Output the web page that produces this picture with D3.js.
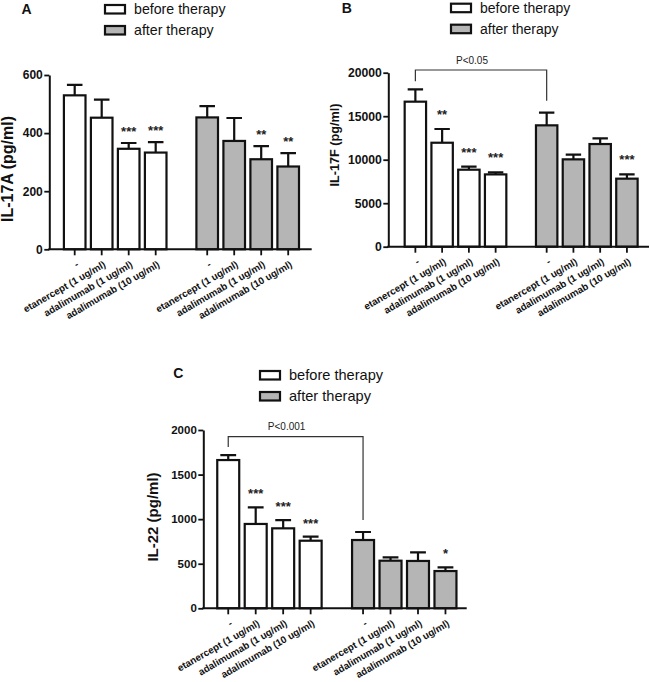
<!DOCTYPE html>
<html>
<head>
<meta charset="utf-8">
<script src="https://cdn.jsdelivr.net/npm/d3@7"></script>
<style>
    body { margin: 0; background: #fff; }
    text { font-family: "Liberation Sans", Arial, sans-serif; }
</style>
</head>
<body>
<div class="chart"></div>
<script>
// categories and groups shared by all three panels
var categories = ["-", "etanercept (1 ug/ml)", "adalimumab (1 ug/ml)", "adalimumab (10 ug/ml)"],
    groups = ["before therapy", "after therapy"];

// IL-17A
var il17aBefore = [530, 453, 346, 333],
    il17aBeforeErr = [36, 62, 20, 36],
    il17aAfter = [454, 373, 310, 285],
    il17aAfterErr = [39, 79, 45, 46],
    il17aBeforeStars = ["", "", "***", "***"],
    il17aAfterStars = ["", "", "**", "**"],
    il17aTicks = [0, 200, 400, 600];

// IL-17F
var il17fBefore = [16670, 11950, 8850, 8310],
    il17fBeforeErr = [1420, 1580, 345, 235],
    il17fAfter = [13950, 10040, 11800, 7820],
    il17fAfterErr = [1450, 535, 650, 495],
    il17fBeforeStars = ["", "**", "***", "***"],
    il17fAfterStars = ["", "", "", "***"],
    il17fTicks = [0, 5000, 10000, 15000, 20000];

// IL-22
var il22Before = [1663, 946, 897, 758],
    il22BeforeErr = [56, 187, 93, 45],
    il22After = [766, 534, 531, 418],
    il22AfterErr = [90, 38, 97, 42],
    il22BeforeStars = ["", "***", "***", "***"],
    il22AfterStars = ["", "", "", "*"],
    il22Ticks = [0, 500, 1000, 1500, 2000];

var fills = ["#ffffff", "#b5b5b5"];

var svg = d3.select(".chart").append("svg")
    .attr("width", 650)
    .attr("height", 682);

var panels = [
    {
        letter: "A", letterX: 21.5, letterY: 13.5, legendX: 104, legendY: 4, legendFont: 14.2,
        yLabel: "IL-17A (pg/ml)", yLabelX: 13, yLabelY: 169, yLabelFont: 16,
        axisX: 49.3, yTop: 75, yBottom: 249.3, xRange: [61.2, 301.7], axisEnd: 311.7,
        ticks: il17aTicks, tickFont: 12, starGap: 15,
        before: il17aBefore, beforeErr: il17aBeforeErr, after: il17aAfter, afterErr: il17aAfterErr,
        beforeStars: il17aBeforeStars, afterStars: il17aAfterStars, bracket: null
    },
    {
        letter: "B", letterX: 341.7, letterY: 13.3, legendX: 450, legendY: 2.7, legendFont: 14,
        yLabel: "IL-17F (pg/ml)", yLabelX: 339.3, yLabelY: 145, yLabelFont: 12.7,
        axisX: 388.3, yTop: 72.7, yBottom: 246.7, xRange: [402, 640.3], axisEnd: 649,
        ticks: il17fTicks, tickFont: 12.2, starGap: 18,
        before: il17fBefore, beforeErr: il17fBeforeErr, after: il17fAfter, afterErr: il17fAfterErr,
        beforeStars: il17fBeforeStars, afterStars: il17fAfterStars,
        bracket: { text: "P<0.05", level: 20310 }
    },
    {
        letter: "C", letterX: 173.3, letterY: 378.3, legendX: 259, legendY: 370, legendFont: 14.6,
        yLabel: "IL-22 (pg/ml)", yLabelX: 158, yLabelY: 517, yLabelFont: 15,
        axisX: 203.3, yTop: 430, yBottom: 608.3, xRange: [214.5, 459.2], axisEnd: 466.7,
        ticks: il22Ticks, tickFont: 11.5, starGap: 17,
        before: il22Before, beforeErr: il22BeforeErr, after: il22After, afterErr: il22AfterErr,
        beforeStars: il22BeforeStars, afterStars: il22AfterStars,
        bracket: { text: "P<0.001", level: 1925 }
    }
];

panels.forEach(drawPanel);

function drawPanel(p) {
    var g = svg.append("g");

    var y = d3.scaleLinear()
        .domain([0, d3.max(p.ticks)])
        .range([p.yBottom, p.yTop]);

    var x0 = d3.scaleBand()
        .domain(groups)
        .range(p.xRange)
        .paddingInner(0.185);

    var x1 = d3.scaleBand()
        .domain(categories)
        .range([0, x0.bandwidth()])
        .paddingInner(0.2)
        .paddingOuter(0.1);

    var data = [];
    groups.forEach(function (grp, gi) {
        var vals = gi === 0 ? p.before : p.after,
            errs = gi === 0 ? p.beforeErr : p.afterErr,
            stars = gi === 0 ? p.beforeStars : p.afterStars;
        categories.forEach(function (c, ci) {
            data.push({ group: grp, gi: gi, cat: c, value: vals[ci], err: errs[ci], star: stars[ci] });
        });
    });

    function cx(d) { return x0(d.group) + x1(d.cat) + x1.bandwidth() / 2; }

    // error bars (upper only)
    var capW = x1.bandwidth() * 0.72;
    g.selectAll(".err").data(data).enter().append("path")
        .attr("d", function (d) {
            var top = y(d.value + d.err), c = cx(d);
            return "M" + c + "," + y(d.value) + "V" + top +
                "M" + (c - capW / 2) + "," + top + "H" + (c + capW / 2);
        })
        .attr("fill", "none")
        .attr("stroke", "#111")
        .attr("stroke-width", 2.2);

    // bars
    g.selectAll(".bar").data(data).enter().append("rect")
        .attr("x", function (d) { return x0(d.group) + x1(d.cat); })
        .attr("y", function (d) { return y(d.value); })
        .attr("width", x1.bandwidth())
        .attr("height", function (d) { return y(0) - y(d.value); })
        .attr("fill", function (d) { return fills[d.gi]; })
        .attr("stroke", "#111")
        .attr("stroke-width", 2.2);

    // significance stars
    g.selectAll(".star").data(data.filter(function (d) { return d.star; })).enter().append("text")
        .attr("x", cx)
        .attr("y", function (d) { return y(d.value + d.err) - p.starGap + 0.6 * 13; })
        .attr("text-anchor", "middle")
        .attr("font-size", 13)
        .attr("font-weight", "bold")
        .attr("fill", "#222")
        .text(function (d) { return d.star; });

    // y axis
    var yAxis = g.append("g")
        .attr("transform", "translate(" + p.axisX + ",0)")
        .call(d3.axisLeft(y).tickValues(p.ticks).tickFormat(d3.format("d"))
            .tickSize(5).tickSizeOuter(0).tickPadding(1.5));
    yAxis.select(".domain").attr("stroke", "#111").attr("stroke-width", 2);
    yAxis.selectAll(".tick line").attr("stroke", "#111").attr("stroke-width", 1.8);
    yAxis.selectAll(".tick text")
        .attr("font-family", "'Liberation Sans', Arial, sans-serif")
        .attr("font-size", p.tickFont)
        .attr("font-weight", "bold")
        .attr("fill", "#111");

    // x axis line and ticks
    g.append("line")
        .attr("x1", p.axisX - 1).attr("x2", p.axisEnd)
        .attr("y1", y(0)).attr("y2", y(0))
        .attr("stroke", "#111").attr("stroke-width", 2);

    g.selectAll(".xtick").data(data).enter().append("line")
        .attr("x1", cx).attr("x2", cx)
        .attr("y1", y(0)).attr("y2", y(0) + 6)
        .attr("stroke", "#111").attr("stroke-width", 1.8);

    g.selectAll(".xlabel").data(data).enter().append("text")
        .attr("transform", function (d) { return "translate(" + (cx(d) + 3) + "," + (y(0) + 14) + ") rotate(-30)"; })
        .attr("text-anchor", "end")
        .attr("dy", "0.35em")
        .attr("font-size", 9.8)
        .attr("font-weight", "bold")
        .attr("fill", "#111")
        .text(function (d) { return d.cat; });

    // y label
    g.append("text")
        .attr("transform", "translate(" + p.yLabelX + "," + p.yLabelY + ") rotate(-90)")
        .attr("text-anchor", "middle")
        .attr("font-size", p.yLabelFont)
        .attr("font-weight", "bold")
        .attr("fill", "#111")
        .text(p.yLabel);

    // panel letter
    g.append("text")
        .attr("x", p.letterX).attr("y", p.letterY)
        .attr("font-size", 14)
        .attr("font-weight", "bold")
        .attr("fill", "#111")
        .text(p.letter);

    // legend
    var leg = g.selectAll(".leg").data(groups).enter().append("g")
        .attr("transform", function (d, i) { return "translate(" + p.legendX + "," + (p.legendY + i * 21) + ")"; });
    leg.append("rect")
        .attr("x", 1).attr("y", 1)
        .attr("width", 20).attr("height", 8.5)
        .attr("fill", function (d, i) { return fills[i]; })
        .attr("stroke", "#111")
        .attr("stroke-width", 2.2);
    leg.append("text")
        .attr("x", 30).attr("y", 10.2)
        .attr("font-size", p.legendFont)
        .attr("fill", "#111")
        .text(function (d) { return d; });

    // bracket between untreated bars
    if (p.bracket) {
        var a = data[0], b = data[4],
            ly = y(p.bracket.level);
        g.append("path")
            .attr("d", "M" + cx(a) + "," + (y(a.value + a.err) - 8) + "V" + ly +
                "H" + cx(b) + "V" + (y(b.value + b.err) - 12))
            .attr("fill", "none")
            .attr("stroke", "#333")
            .attr("stroke-width", 1.2);
        g.append("text")
            .attr("x", (cx(a) + cx(b)) / 2 - 9)
            .attr("y", ly - 6.5)
            .attr("text-anchor", "middle")
            .attr("font-family", "'Open Sans', sans-serif")
            .attr("font-size", 10)
            .attr("fill", "#222")
            .text(p.bracket.text);
    }
}
</script>
</body>
</html>
